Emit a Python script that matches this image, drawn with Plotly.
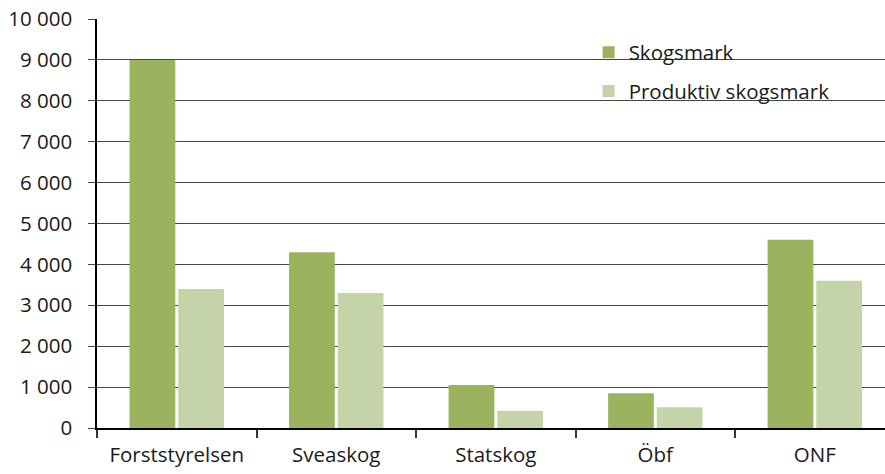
import plotly.graph_objects as go

categories = ["Forststyrelsen", "Sveaskog", "Statskog", "Öbf", "ONF"]
skogsmark = [9000, 4300, 1050, 850, 4600]
produktiv = [3400, 3300, 420, 510, 3600]
ytick_vals = [0, 1000, 2000, 3000, 4000, 5000, 6000, 7000, 8000, 9000, 10000]
ytick_text = ["0", "1 000", "2 000", "3 000", "4 000", "5 000", "6 000", "7 000", "8 000", "9 000", "10 000"]

font = "Open Sans"
fs = 20.5

fig = go.Figure()
fig.add_trace(go.Bar(x=categories, y=skogsmark, name="Skogsmark",
                     marker=dict(color="#9BB25F", line=dict(width=0)), legendgroup="a"))
fig.add_trace(go.Bar(x=categories, y=produktiv, name="Produktiv skogsmark",
                     marker=dict(color="#C4D4A8", line=dict(width=0)), legendgroup="b"))

# white panel behind the legend, covering the gridlines
fig.add_shape(type="rect", xref="paper", yref="paper",
              x0=(578 - 97) / 788, x1=1.0, y0=(428 - 113) / 409, y1=(428 - 28) / 409,
              fillcolor="white", line=dict(width=0), layer="between")

fig.update_layout(
    width=885, height=474,
    margin=dict(l=97, r=0, t=19, b=46),
    paper_bgcolor="white", plot_bgcolor="white",
    barmode="group", bargap=0.39, bargroupgap=0.06,
    font=dict(family=font, size=fs, color="#1a1a1a"),
    showlegend=True,
    legend=dict(x=0.6239, y=0.967, xanchor="left", yanchor="top",
                bgcolor="rgba(0,0,0,0)", borderwidth=0,
                font=dict(family=font, size=fs, color="#1a1a1a"),
                traceorder="grouped", tracegroupgap=9,
                itemwidth=30),
    xaxis=dict(range=[-0.5, 4.44], showline=True, linecolor="black", linewidth=1.5,
               ticks="outside", ticklen=8, tickcolor="#333", tickwidth=1.5,
               tickson="boundaries", showgrid=False, ticklabelstandoff=8,
               automargin=False, tickfont=dict(size=fs)),
    yaxis=dict(range=[0, 10000], tickvals=ytick_vals, ticktext=ytick_text,
               showline=True, linecolor="black", linewidth=1.5,
               ticks="outside", ticklen=7, tickcolor="#444",
               showgrid=True, gridcolor="#444", gridwidth=1,
               ticklabelstandoff=12, zeroline=False, automargin=False,
               tickfont=dict(size=fs)),
)

fig.write_html("out.html", config={"displayModeBar": False},
               post_script="document.body.style.margin='0';document.body.style.overflow='hidden';")
